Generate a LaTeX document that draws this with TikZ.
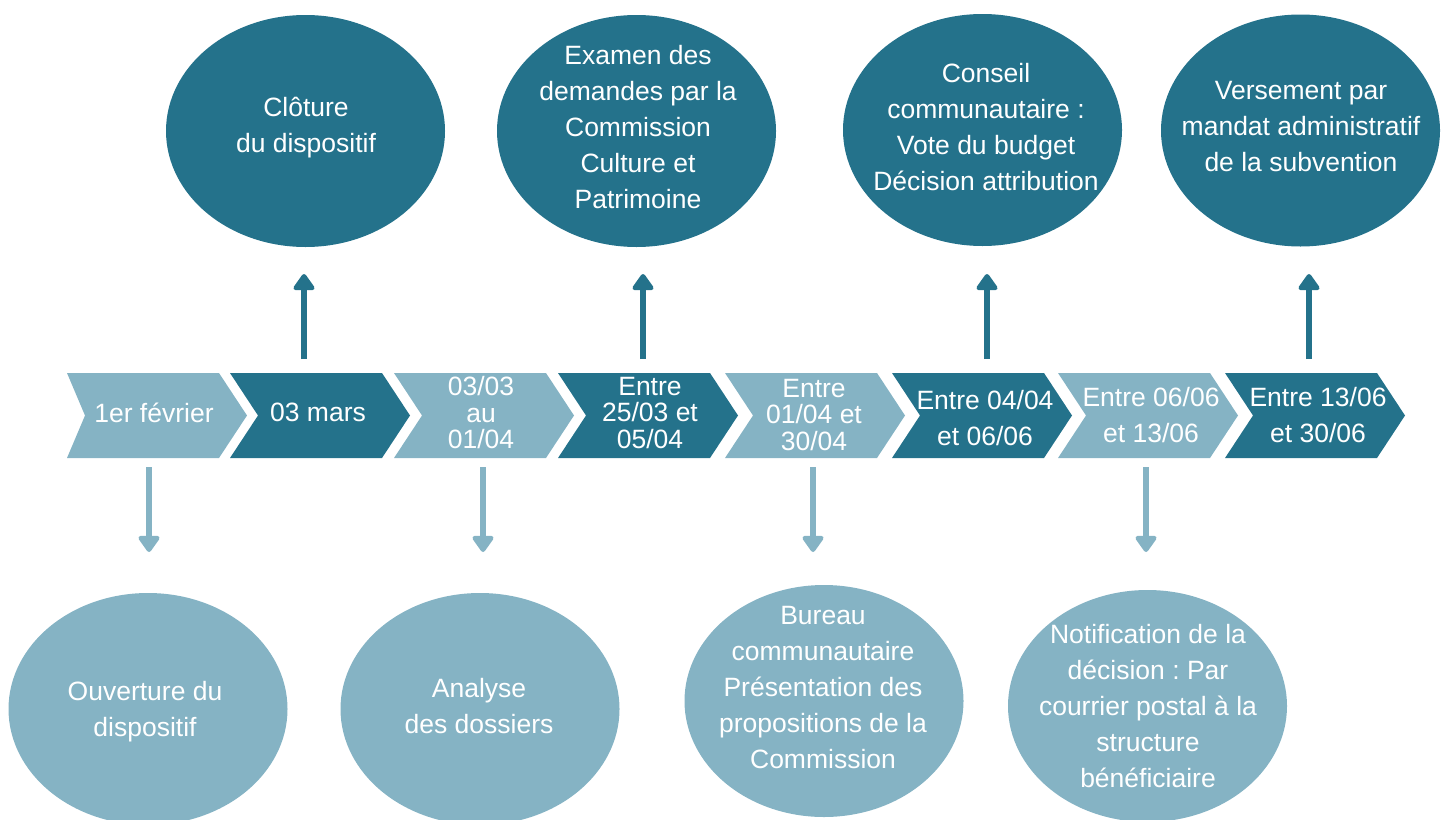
\documentclass[tikz,border=0pt]{standalone}
\usepackage{fontspec}
\setmainfont{Liberation Sans}
\usetikzlibrary{shapes.geometric,arrows.meta}
\definecolor{dk}{RGB}{36,114,139}
\definecolor{lt}{RGB}{133,179,196}
\newcommand\chevshape[3][28]{\fill[#2] (#3,373) -- ++(152,0) -- ++(28,42.5) -- ++(-28,42.5) -- ++(-152,0) -- ++(#1,-42.5) -- cycle;}
\frenchspacing
\begin{document}
\begin{tikzpicture}[x=1pt,y=-1pt,
  txt/.style={text=white, align=center, font=\fontsize{26.5}{36}\selectfont, inner sep=0pt},
  tight/.style={font=\fontsize{26.5}{26.5}\selectfont},
  ell/.style={ellipse, fill=#1, draw=none, minimum width=279pt, minimum height=232pt, inner sep=0pt},
  uparr/.style={draw=dk, line width=6.5pt, -{Triangle[width=24pt,length=18pt,round]}},
  dnarr/.style={draw=lt, line width=6.5pt, -{Triangle[width=24pt,length=18pt,round]}}
]
\useasboundingbox (0,0) rectangle (1445,819);

% chevrons
\chevshape[18]{lt}{67}
\chevshape{dk}{230}
\chevshape{lt}{394}
\chevshape{dk}{558}
\chevshape{lt}{725}
\chevshape{dk}{892}
\chevshape{lt}{1058}
\chevshape{dk}{1225}

\node[txt] (c1) at (154,413) {1er février};
\node[txt] (c2) at (318,412) {03 mars};
\node[txt,tight] (c3) at (481,413) {03/03\\au\\01/04};
\node[txt,tight] (c4) at (650,413) {Entre\\25/03 et\\05/04};
\node[txt,tight] (c5) at (814,415) {Entre\\01/04 et\\30/04};
\node[txt] (c6) at (985,418) {Entre 04/04\\et 06/06};
\node[txt] (c7) at (1151,415) {Entre 06/06\\et 13/06};
\node[txt] (c8) at (1318,415) {Entre 13/06\\et 30/06};

% top ellipses
\node[ell=dk] (e1) at (305.5,131) {};
\node[ell=dk] (e2) at (636.5,131) {};
\node[ell=dk] (e3) at (982.5,130) {};
\node[ell=dk] (e4) at (1300.5,130.5) {};
\node[txt] (t1) at (306,128) {Clôture\\du dispositif};
\node[txt] (t2) at (638,127) {Examen des\\demandes par la\\Commission\\Culture et\\Patrimoine};
\node[txt] (t3) at (986,127) {Conseil\\communautaire :\\Vote du budget\\Décision attribution};
\node[txt] (t4) at (1301,127) {Versement par\\mandat administratif\\de la subvention};

% bottom ellipses
\node[ell=lt] (b1) at (148,709) {};
\node[ell=lt] (b2) at (480,709) {};
\node[ell=lt] (b3) at (824,701) {};
\node[ell=lt] (b4) at (1147.5,706) {};
\node[txt] (s1) at (145,712) {Ouverture du\\dispositif};
\node[txt] (s2) at (479,706.5) {Analyse\\des dossiers};
\node[txt] (s3) at (823,688) {Bureau\\communautaire\\Présentation des\\propositions de la\\Commission};
\node[txt] (s4) at (1148,706) {Notification de la\\décision : Par\\courrier postal à la\\structure\\bénéficiaire};

% arrow ends
\coordinate (u2a) at (304,359); \coordinate (u2b) at (304,274);
\coordinate (u4a) at (643,359); \coordinate (u4b) at (643,274);
\coordinate (u6a) at (987,359); \coordinate (u6b) at (987,274);
\coordinate (u8a) at (1309,359); \coordinate (u8b) at (1309,274);
\coordinate (d1a) at (149,467); \coordinate (d1b) at (149,552);
\coordinate (d3a) at (483,467); \coordinate (d3b) at (483,552);
\coordinate (d5a) at (813,467); \coordinate (d5b) at (813,552);
\coordinate (d7a) at (1146,467); \coordinate (d7b) at (1146,552);

\draw[uparr] (u2a) -- (u2b);
\draw[uparr] (u4a) -- (u4b);
\draw[uparr] (u6a) -- (u6b);
\draw[uparr] (u8a) -- (u8b);
\draw[dnarr] (d1a) -- (d1b);
\draw[dnarr] (d3a) -- (d3b);
\draw[dnarr] (d5a) -- (d5b);
\draw[dnarr] (d7a) -- (d7b);
\end{tikzpicture}
\end{document}
